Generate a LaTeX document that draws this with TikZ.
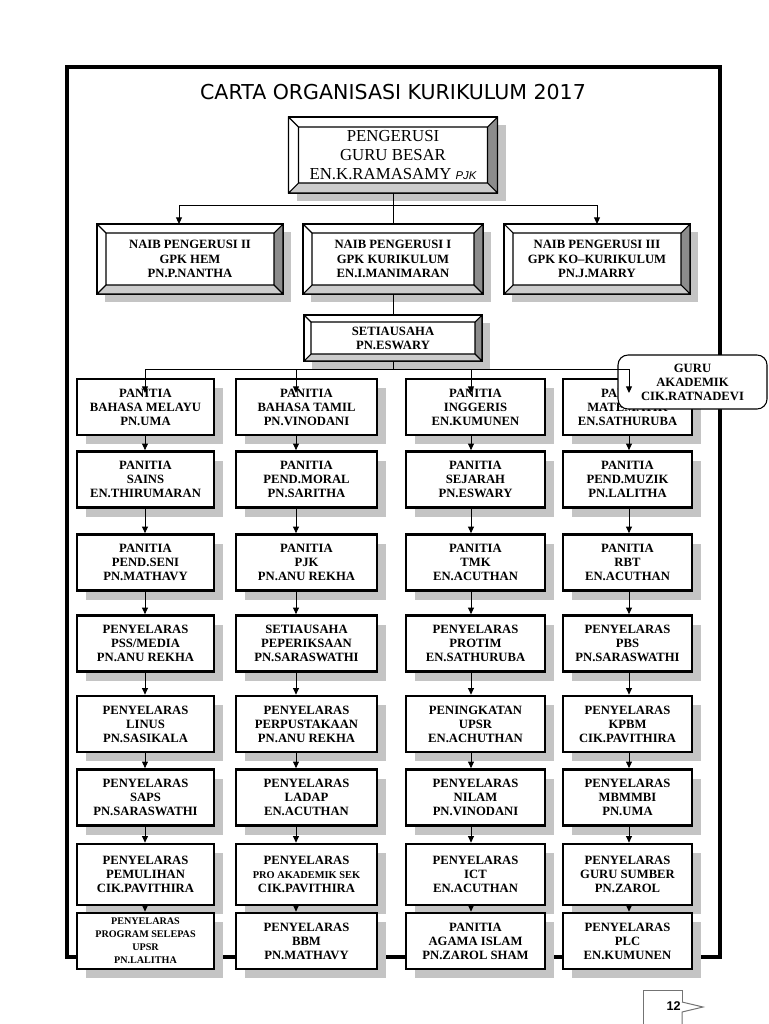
\documentclass[tikz,border=0pt]{standalone}
\usepackage{fontspec}
\setmainfont{Liberation Serif}
\setsansfont{Liberation Sans}
\newfontfamily\titlefont{DejaVu Sans}
\usetikzlibrary{arrows.meta,shadows}

\definecolor{bvdark}{gray}{0.55}
\definecolor{bvlight}{gray}{0.80}
\definecolor{shade}{gray}{0.77}
\definecolor{pgline}{gray}{0.45}
\def\px{0.75pt}

\tikzset{
  bevbox/.style={draw, line width=0.8pt, fill=white, inner sep=1pt, outer sep=0pt, align=center,
    drop shadow={shadow xshift=6pt, shadow yshift=-6pt, fill=shade, opacity=1}},
  naib/.style={bevbox, minimum width=186*\px, minimum height=70*\px,
    font=\bfseries\fontsize{9.5}{10.8}\selectfont},
  pan/.style={draw, line width=2pt, fill=white, inner sep=1pt, align=center, minimum height=56*\px,
    font=\bfseries\fontsize{9.5}{10.5}\selectfont,
    drop shadow={shadow xshift=6.75pt, shadow yshift=-6.75pt, fill=shade, opacity=1}},
  cola/.style={pan, minimum width=137*\px},
  colb/.style={pan, minimum width=141*\px},
  colc/.style={pan, minimum width=139*\px},
  cold/.style={pan, minimum width=129*\px},
  guru/.style={draw, rounded corners=7.5pt, line width=0.8pt, fill=white, inner sep=1pt,
    minimum width=149*\px, minimum height=54*\px, align=center,
    font=\bfseries\fontsize{9.5}{10.5}\selectfont},
  link/.style={line width=0.75pt},
  arr/.style={link, -{Triangle[length=5pt,width=4.5pt]}},
}

% bevel faces of a framed node: name, inset
\newcommand\bevel[2]{%
  \fill[bvdark] (#1.north east) -- (#1.south east) -- ([shift={(-#2,-#2)}]#1.south east)
    -- ([shift={(-#2,#2)}]#1.north east) -- cycle;
  \fill[bvlight] (#1.south west) -- (#1.south east) -- ([shift={(-#2,-#2)}]#1.south east)
    -- ([shift={(#2,-#2)}]#1.south west) -- cycle;
  \draw[line width=0.8pt] (#1.north west) rectangle (#1.south east)
    ([shift={(#2,#2)}]#1.north west) rectangle ([shift={(-#2,-#2)}]#1.south east)
    (#1.north west) -- ([shift={(#2,#2)}]#1.north west)
    (#1.north east) -- ([shift={(-#2,#2)}]#1.north east)
    (#1.south east) -- ([shift={(-#2,-#2)}]#1.south east)
    (#1.south west) -- ([shift={(#2,-#2)}]#1.south west);
}

\begin{document}
\begin{tikzpicture}[x=\px, y=-\px]
\useasboundingbox (0,0) rectangle (768,1024);

\def\xa{145.5}
\def\xb{306.5}
\def\xc{475.5}
\def\xd{627.5}

\def\ya{407}
\def\yb{479.5}
\def\yc{562.5}
\def\yd{643.5}
\def\ye{724}
\def\yf{797.5}
\def\yg{874.5}
\def\yh{941}

% frame and title
\draw[line width=2.6pt] (67,67) rectangle (720,957);
\node[font=\titlefont\fontsize{15.4}{18}\selectfont] (title) at (393,92) {CARTA ORGANISASI KURIKULUM 2017};

% head
\node[bevbox, minimum width=209*\px, minimum height=76*\px, font=\fontsize{12.6}{14.25}\selectfont]
  (gb) at (393,155) {PENGERUSI\\GURU BESAR\\EN.K.RAMASAMY {\sffamily\itshape\fontsize{8.5}{9}\selectfont PJK}};
\bevel{gb}{10}

\node[naib] (n2) at (190,259) {NAIB PENGERUSI II\\GPK HEM\\PN.P.NANTHA};
\node[naib, minimum width=180*\px] (n1) at (393,259) {NAIB PENGERUSI I\\GPK KURIKULUM\\EN.I.MANIMARAN};
\node[naib] (n3) at (597,259) {NAIB PENGERUSI III\\GPK KO--KURIKULUM\\PN.J.MARRY};
\bevel{n2}{9}
\bevel{n1}{9}
\bevel{n3}{9}

\node[bevbox, minimum width=178*\px, minimum height=46*\px, font=\bfseries\fontsize{9.5}{10.5}\selectfont]
  (sec) at (393,338) {SETIAUSAHA\\PN.ESWARY};
\bevel{sec}{7}

% panitia
\node[cola] (a1) at (\xa,\ya) {PANITIA\\BAHASA MELAYU\\PN.UMA};
\node[colb] (a2) at (\xb,\ya) {PANITIA\\BAHASA TAMIL\\PN.VINODANI};
\node[colc] (a3) at (\xc,\ya) {PANITIA\\INGGERIS\\EN.KUMUNEN};
\node[cold] (a4) at (\xd,\ya) {PANITIA\\MATEMATIK\\EN.SATHURUBA};

\node[cola] (b1) at (\xa,\yb) {PANITIA\\SAINS\\EN.THIRUMARAN};
\node[colb] (b2) at (\xb,\yb) {PANITIA\\PEND.MORAL\\PN.SARITHA};
\node[colc] (b3) at (\xc,\yb) {PANITIA\\SEJARAH\\PN.ESWARY};
\node[cold] (b4) at (\xd,\yb) {PANITIA\\PEND.MUZIK\\PN.LALITHA};

\node[cola] (c1) at (\xa,\yc) {PANITIA\\PEND.SENI\\PN.MATHAVY};
\node[colb] (c2) at (\xb,\yc) {PANITIA\\PJK\\PN.ANU REKHA};
\node[colc] (c3) at (\xc,\yc) {PANITIA\\TMK\\EN.ACUTHAN};
\node[cold] (c4) at (\xd,\yc) {PANITIA\\RBT\\EN.ACUTHAN};

\node[cola] (d1) at (\xa,\yd) {PENYELARAS\\PSS/MEDIA\\PN.ANU REKHA};
\node[colb] (d2) at (\xb,\yd) {SETIAUSAHA\\PEPERIKSAAN\\PN.SARASWATHI};
\node[colc] (d3) at (\xc,\yd) {PENYELARAS\\PROTIM\\EN.SATHURUBA};
\node[cold] (d4) at (\xd,\yd) {PENYELARAS\\PBS\\PN.SARASWATHI};

\node[cola] (e1) at (\xa,\ye) {PENYELARAS\\LINUS\\PN.SASIKALA};
\node[colb] (e2) at (\xb,\ye) {PENYELARAS\\PERPUSTAKAAN\\PN.ANU REKHA};
\node[colc] (e3) at (\xc,\ye) {PENINGKATAN\\UPSR\\EN.ACHUTHAN};
\node[cold] (e4) at (\xd,\ye) {PENYELARAS\\KPBM\\CIK.PAVITHIRA};

\node[cola] (f1) at (\xa,\yf) {PENYELARAS\\SAPS\\PN.SARASWATHI};
\node[colb] (f2) at (\xb,\yf) {PENYELARAS\\LADAP\\EN.ACUTHAN};
\node[colc] (f3) at (\xc,\yf) {PENYELARAS\\NILAM\\PN.VINODANI};
\node[cold] (f4) at (\xd,\yf) {PENYELARAS\\MBMMBI\\PN.UMA};

\node[cola, minimum height=61*\px] (g1) at (\xa,\yg) {PENYELARAS\\PEMULIHAN\\CIK.PAVITHIRA};
\node[colb, minimum height=61*\px] (g2) at (\xb,\yg) {PENYELARAS\\{\fontsize{7.8}{10.5}\selectfont PRO AKADEMIK SEK}\\CIK.PAVITHIRA};
\node[colc, minimum height=61*\px] (g3) at (\xc,\yg) {PENYELARAS\\ICT\\EN.ACUTHAN};
\node[cold, minimum height=61*\px] (g4) at (\xd,\yg) {PENYELARAS\\GURU SUMBER\\PN.ZAROL};

\node[cola, font=\bfseries\fontsize{7.6}{9.8}\selectfont] (h1) at (\xa,\yh) {PENYELARAS\\PROGRAM SELEPAS\\UPSR\\PN.LALITHA};
\node[colb] (h2) at (\xb,\yh) {PENYELARAS\\BBM\\PN.MATHAVY};
\node[colc] (h3) at (\xc,\yh) {PANITIA\\AGAMA ISLAM\\PN.ZAROL SHAM};
\node[cold] (h4) at (\xd,\yh) {PENYELARAS\\PLC\\EN.KUMUNEN};

\node[guru] (ga) at (692.5,382) {GURU\\AKADEMIK\\CIK.RATNADEVI};

% connectors
\coordinate (kl) at (179,205);
\coordinate (kr) at (597,205);
\coordinate (k1) at (145,369);
\coordinate (k2) at (296,369);
\coordinate (k3) at (471,369);
\coordinate (k4) at (629,369);
\coordinate (drop) at (0,393);

\draw[link] (gb.south) -- (gb.south |- n1.north);
\draw[link] (kl) -- (kr);
\draw[arr] (kl) -- (kl |- n2.north);
\draw[arr] (kr) -- (kr |- n3.north);
\draw[link] (n1.south) -- (n1.south |- sec.north);

\draw[link] (sec.south) -- (sec.south |- k1);
\draw[link] (k1) -- (k4);
\draw[arr] (k1) -- (k1 |- drop);
\draw[arr] (k2) -- (k2 |- drop);
\draw[arr] (k3) -- (k3 |- drop);
\draw[arr] (k4) -- (k4 |- drop);

\draw[arr] (a1.south -| k1) -- (b1.north -| k1);
\draw[arr] (b1.south -| k1) -- (c1.north -| k1);
\draw[arr] (c1.south -| k1) -- (d1.north -| k1);
\draw[arr] (d1.south -| k1) -- (e1.north -| k1);
\draw[arr] (e1.south -| k1) -- (f1.north -| k1);
\draw[arr] (f1.south -| k1) -- (g1.north -| k1);
\draw[arr] (g1.south -| k1) -- (h1.north -| k1);

\draw[arr] (a2.south -| k2) -- (b2.north -| k2);
\draw[arr] (b2.south -| k2) -- (c2.north -| k2);
\draw[arr] (c2.south -| k2) -- (d2.north -| k2);
\draw[arr] (d2.south -| k2) -- (e2.north -| k2);
\draw[arr] (e2.south -| k2) -- (f2.north -| k2);
\draw[arr] (f2.south -| k2) -- (g2.north -| k2);
\draw[arr] (g2.south -| k2) -- (h2.north -| k2);

\draw[arr] (a3.south -| k3) -- (b3.north -| k3);
\draw[arr] (b3.south -| k3) -- (c3.north -| k3);
\draw[arr] (c3.south -| k3) -- (d3.north -| k3);
\draw[arr] (d3.south -| k3) -- (e3.north -| k3);
\draw[arr] (e3.south -| k3) -- (f3.north -| k3);
\draw[arr] (f3.south -| k3) -- (g3.north -| k3);
\draw[arr] (g3.south -| k3) -- (h3.north -| k3);

\draw[arr] (a4.south -| k4) -- (b4.north -| k4);
\draw[arr] (b4.south -| k4) -- (c4.north -| k4);
\draw[arr] (c4.south -| k4) -- (d4.north -| k4);
\draw[arr] (d4.south -| k4) -- (e4.north -| k4);
\draw[arr] (e4.south -| k4) -- (f4.north -| k4);
\draw[arr] (f4.south -| k4) -- (g4.north -| k4);
\draw[arr] (g4.south -| k4) -- (h4.north -| k4);

% page number tab
\draw[pgline, line width=0.75pt] (682,1002) -- (682,990) -- (643,990) -- (643,1030);
\draw[pgline, line width=0.75pt] (682,1030) -- (682,1012) -- (703,1007) -- (682,1002);
\node[anchor=east, inner sep=0pt, font=\sffamily\bfseries\fontsize{9.5}{11}\selectfont] (pg) at (681,1006) {12};

\end{tikzpicture}
\end{document}
